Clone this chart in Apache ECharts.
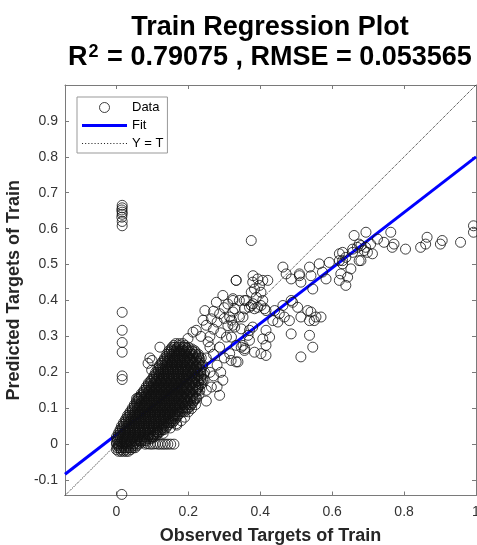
<!DOCTYPE html>
<html>
<head>
<meta charset="utf-8">
<script src="https://cdn.jsdelivr.net/npm/echarts@6/dist/echarts.min.js"></script>
<style>html,body{margin:0;padding:0;background:#fff}#chart{width:477px;height:545px}</style>
</head>
<body>
<div id="chart"></div>
<script>
// ---------- data ----------
const axisMin = -0.143;
const axisMax = 1.0;
const xTickValues = [0, 0.2, 0.4, 0.6, 0.8, 1];
const yTickValues = [-0.1, 0, 0.1, 0.2, 0.3, 0.4, 0.5, 0.6, 0.7, 0.8, 0.9];

// dense core of the cloud: one predicted level per row, observed values in that row
const coreRowY = [-0.02,-0.01,0,0.01,0.02,0.03,0.04,0.05,0.06,0.07,0.08,0.09,0.10,0.11,0.12,0.13,0.14,0.15,0.16,0.17,0.18,0.19,0.20,0.21,0.22,0.23,0.24,0.25,0.26,0.27,0.28];
const coreRowX = [
  [0.006,0.02,0.033],
  [0.002,0.014,0.027,0.04,0.052],
  [0.0,0.008,0.021,0.035,0.048,0.062],
  [0.003,0.015,0.03,0.044,0.058,0.071,0.083],
  [0.0,0.01,0.024,0.038,0.052,0.066,0.08,0.094,0.105],
  [0.005,0.018,0.032,0.046,0.06,0.074,0.088,0.102,0.116],
  [0.01,0.024,0.038,0.052,0.066,0.08,0.094,0.108,0.122,0.132],
  [0.014,0.028,0.042,0.056,0.07,0.084,0.098,0.112,0.126,0.14],
  [0.02,0.034,0.048,0.062,0.076,0.09,0.104,0.118,0.132,0.146,0.156],
  [0.026,0.04,0.054,0.068,0.082,0.096,0.11,0.124,0.138,0.152,0.164],
  [0.031,0.045,0.059,0.073,0.087,0.101,0.115,0.129,0.143,0.157,0.17],
  [0.038,0.052,0.066,0.08,0.094,0.108,0.122,0.136,0.15,0.164,0.178,0.19],
  [0.044,0.058,0.072,0.086,0.1,0.114,0.128,0.142,0.156,0.17,0.184,0.2],
  [0.05,0.064,0.078,0.092,0.106,0.12,0.134,0.148,0.162,0.176,0.192,0.208],
  [0.056,0.07,0.084,0.098,0.112,0.126,0.14,0.154,0.168,0.182,0.198,0.215],
  [0.063,0.077,0.091,0.105,0.119,0.133,0.147,0.161,0.175,0.19,0.205,0.222],
  [0.069,0.083,0.097,0.111,0.125,0.139,0.153,0.167,0.181,0.196,0.212],
  [0.077,0.091,0.105,0.119,0.133,0.147,0.161,0.175,0.189,0.204,0.22,0.232],
  [0.083,0.097,0.111,0.125,0.139,0.153,0.167,0.181,0.196,0.212,0.228],
  [0.089,0.103,0.117,0.131,0.145,0.159,0.173,0.187,0.202,0.218,0.238],
  [0.098,0.112,0.126,0.14,0.154,0.168,0.182,0.196,0.21,0.226,0.244],
  [0.104,0.118,0.132,0.146,0.16,0.174,0.188,0.202,0.218,0.236],
  [0.109,0.123,0.137,0.151,0.165,0.179,0.193,0.208,0.225,0.245],
  [0.115,0.129,0.143,0.157,0.171,0.185,0.2,0.215,0.232],
  [0.12,0.134,0.148,0.162,0.176,0.19,0.205,0.222,0.24],
  [0.128,0.142,0.156,0.17,0.184,0.198,0.213,0.23],
  [0.134,0.148,0.162,0.176,0.19,0.205,0.222,0.236],
  [0.14,0.154,0.168,0.182,0.196,0.212,0.228],
  [0.146,0.16,0.174,0.188,0.203,0.218],
  [0.155,0.17,0.185,0.2],
  [0.165,0.185]
];
// further points on the same rows (the core is overplotted)
const coreRowX3 = [
  [0.013,0.027],
  [0.008,0.021,0.034,0.046],
  [0.004,0.015,0.028,0.042,0.055],
  [0.009,0.022,0.037,0.051,0.065,0.077],
  [0.005,0.017,0.031,0.045,0.059,0.073,0.087,0.1],
  [0.011,0.025,0.039,0.053,0.067,0.081,0.095,0.109],
  [0.017,0.031,0.045,0.059,0.073,0.087,0.101,0.115,0.127],
  [0.021,0.035,0.049,0.063,0.077,0.091,0.105,0.119,0.133],
  [0.027,0.041,0.055,0.069,0.083,0.097,0.111,0.125,0.139,0.151],
  [0.033,0.047,0.061,0.075,0.089,0.103,0.117,0.131,0.145,0.158],
  [0.038,0.052,0.066,0.08,0.094,0.108,0.122,0.136,0.15,0.163],
  [0.045,0.059,0.073,0.087,0.101,0.115,0.129,0.143,0.157,0.171,0.184],
  [0.051,0.065,0.079,0.093,0.107,0.121,0.135,0.149,0.163,0.177,0.192],
  [0.057,0.071,0.085,0.099,0.113,0.127,0.141,0.155,0.169,0.184,0.2],
  [0.063,0.077,0.091,0.105,0.119,0.133,0.147,0.161,0.175,0.19,0.206],
  [0.07,0.084,0.098,0.112,0.126,0.14,0.154,0.168,0.182,0.197,0.213],
  [0.076,0.09,0.104,0.118,0.132,0.146,0.16,0.174,0.188,0.204],
  [0.084,0.098,0.112,0.126,0.14,0.154,0.168,0.182,0.196,0.212,0.226],
  [0.09,0.104,0.118,0.132,0.146,0.16,0.174,0.188,0.204,0.22],
  [0.096,0.11,0.124,0.138,0.152,0.166,0.18,0.194,0.21,0.228],
  [0.105,0.119,0.133,0.147,0.161,0.175,0.189,0.203,0.218,0.235],
  [0.111,0.125,0.139,0.153,0.167,0.181,0.195,0.21,0.227],
  [0.116,0.13,0.144,0.158,0.172,0.186,0.2,0.216,0.235],
  [0.122,0.136,0.15,0.164,0.178,0.192,0.207,0.223],
  [0.127,0.141,0.155,0.169,0.183,0.197,0.213,0.231],
  [0.135,0.149,0.163,0.177,0.191,0.205,0.221],
  [0.141,0.155,0.169,0.183,0.197,0.213,0.229],
  [0.147,0.161,0.175,0.189,0.204,0.22],
  [0.153,0.167,0.181,0.195,0.21],
  [0.162,0.177,0.192],
  [0.175]
];
// in-between rows of the same dense core
const coreRowY2 = [-0.015,-0.005,0.005,0.015,0.025,0.035,0.045,0.055,0.065,0.075,0.085,0.095,0.105,0.115,0.125,0.135,0.145,0.155,0.165,0.175,0.185,0.195,0.205,0.215,0.225,0.235,0.245,0.255,0.265,0.275];
const coreRowX2 = [
  [0.0,0.013,0.026,0.04],
  [0.005,0.018,0.031,0.045,0.056],
  [0.0,0.012,0.026,0.04,0.054,0.068,0.078],
  [0.002,0.016,0.03,0.044,0.058,0.072,0.086,0.096],
  [0.006,0.02,0.034,0.048,0.062,0.076,0.09,0.104,0.112],
  [0.01,0.024,0.038,0.052,0.066,0.08,0.094,0.108,0.122],
  [0.016,0.03,0.044,0.058,0.072,0.086,0.1,0.114,0.128,0.138],
  [0.02,0.034,0.048,0.062,0.076,0.09,0.104,0.118,0.132,0.146],
  [0.026,0.04,0.054,0.068,0.082,0.096,0.11,0.124,0.138,0.152,0.16],
  [0.032,0.046,0.06,0.074,0.088,0.102,0.116,0.13,0.144,0.158,0.168],
  [0.037,0.051,0.065,0.079,0.093,0.107,0.121,0.135,0.149,0.163,0.176],
  [0.044,0.058,0.072,0.086,0.1,0.114,0.128,0.142,0.156,0.17,0.184,0.194],
  [0.05,0.064,0.078,0.092,0.106,0.12,0.134,0.148,0.162,0.176,0.19,0.204],
  [0.056,0.07,0.084,0.098,0.112,0.126,0.14,0.154,0.168,0.183,0.198,0.212],
  [0.062,0.076,0.09,0.104,0.118,0.132,0.146,0.16,0.174,0.189,0.205,0.218],
  [0.069,0.083,0.097,0.111,0.125,0.139,0.153,0.167,0.181,0.197,0.212],
  [0.075,0.089,0.103,0.117,0.131,0.145,0.159,0.173,0.188,0.204,0.22],
  [0.083,0.097,0.111,0.125,0.139,0.153,0.167,0.181,0.196,0.212,0.226],
  [0.089,0.103,0.117,0.131,0.145,0.159,0.173,0.188,0.204,0.22,0.234],
  [0.095,0.109,0.123,0.137,0.151,0.165,0.179,0.194,0.21,0.228],
  [0.104,0.118,0.132,0.146,0.16,0.174,0.188,0.203,0.218,0.235],
  [0.11,0.124,0.138,0.152,0.166,0.18,0.195,0.21,0.228,0.242],
  [0.116,0.13,0.144,0.158,0.172,0.186,0.2,0.216,0.235],
  [0.12,0.136,0.15,0.164,0.178,0.192,0.207,0.223,0.238],
  [0.126,0.141,0.155,0.169,0.183,0.197,0.212,0.228],
  [0.134,0.148,0.162,0.176,0.19,0.205,0.22,0.232],
  [0.14,0.155,0.169,0.183,0.198,0.214,0.228],
  [0.147,0.161,0.175,0.19,0.205,0.22],
  [0.152,0.167,0.182,0.196,0.21],
  [0.16,0.175,0.19]
];

// column of points at low observed values
const leftColumn = [[0.016,0.665],[0.016,0.658],[0.015,0.652],[0.016,0.646],[0.016,0.64],[0.015,0.632],[0.016,0.62],[0.016,0.608],
  [0.016,0.367],[0.016,0.317],[0.016,0.283],[0.016,0.256],[0.016,0.19],[0.016,0.18],[0.015,-0.14]];

// row of points predicted at zero
const zeroRow = [[0.08,0.0],[0.087,0.001],[0.094,0.0],[0.101,0.0],[0.108,0.001],[0.115,0.0],[0.122,0.0],[0.129,0.0],[0.136,0.0],[0.143,0.0],[0.151,0.0],[0.16,0.0]];

// sparse points around the core
const haloPoints = [[0.06,0.128],[0.088,0.225],[0.099,0.233],[0.121,0.27],[0.093,0.24],[0.098,0.206],[0.056,0.127],[0.115,0.033],[0.168,0.053],
  [0.112,0.034],[0.167,0.057],[0.209,0.099],[0.222,0.127],[0.25,0.15],[0.264,0.159],[0.287,0.136],[0.296,0.178],[0.319,0.233],[0.338,0.229],
  [0.287,0.27],[0.347,0.27],[0.356,0.261],[0.306,0.298],[0.366,0.303],[0.347,0.321],[0.379,0.326],[0.324,0.331],[0.25,0.331],[0.199,0.294],
  [0.213,0.312],[0.222,0.317],[0.241,0.345],[0.264,0.349],[0.342,0.354],[0.324,0.368],[0.287,0.363],[0.246,0.372],[0.278,0.395],[0.375,0.386],
  [0.356,0.4],[0.324,0.4],[0.296,0.414],[0.333,0.456],[0.379,0.451],
  [0.26,0.3],[0.27,0.32],[0.28,0.34],[0.3,0.35],[0.31,0.33],[0.29,0.31],[0.255,0.285],[0.235,0.3],[0.3,0.38],[0.31,0.39],[0.27,0.37],[0.32,0.345],
  [0.3,0.24],[0.28,0.22],[0.27,0.25],[0.26,0.27],[0.25,0.24],[0.29,0.2],[0.27,0.19],[0.26,0.2],[0.24,0.18],[0.28,0.16],[0.23,0.14],[0.25,0.12],
  [0.2,0.09],[0.22,0.11],[0.19,0.075],[0.18,0.065],[0.15,0.045],[0.13,0.03],[0.1,0.02]];

// middle branch (0.3 - 0.6 observed)
const midPoints = [[0.375,0.567],
  [0.333,0.456],[0.38,0.469],[0.393,0.46],[0.398,0.442],[0.384,0.432],[0.407,0.456],[0.421,0.456],[0.375,0.423],[0.389,0.409],[0.402,0.423],
  [0.407,0.4],[0.324,0.405],[0.342,0.4],[0.361,0.4],[0.357,0.377],[0.37,0.381],[0.38,0.391],[0.384,0.377],[0.393,0.381],[0.402,0.386],
  [0.412,0.377],[0.329,0.377],[0.315,0.354],[0.352,0.354],[0.416,0.372],
  [0.486,0.4],[0.49,0.395],[0.463,0.386],[0.453,0.363],[0.467,0.354],[0.44,0.372],[0.435,0.344],[0.449,0.34],[0.504,0.381],[0.513,0.354],
  [0.532,0.372],[0.541,0.368],[0.537,0.344],[0.555,0.354],[0.569,0.354],[0.55,0.344],[0.481,0.344],[0.486,0.307],[0.537,0.303],[0.546,0.27],[0.513,0.243],
  [0.329,0.326],[0.32,0.298],[0.37,0.317],[0.416,0.317],[0.407,0.293],[0.426,0.298],[0.333,0.275],[0.352,0.275],[0.37,0.289],[0.357,0.266],
  [0.384,0.256],[0.416,0.275],[0.402,0.252],[0.416,0.247],[0.333,0.229],[0.315,0.252],
  [0.463,0.493],[0.472,0.474],[0.486,0.46],[0.509,0.474],[0.513,0.451],[0.541,0.469],[0.573,0.479],[0.583,0.46],[0.546,0.432]];

// upper branch (0.5 - 1.0 observed)
const highPoints = [[0.661,0.581],[0.694,0.59],[0.763,0.59],[0.675,0.557],[0.707,0.557],[0.726,0.571],[0.744,0.562],[0.772,0.557],[0.804,0.543],
  [0.846,0.548],[0.86,0.557],[0.864,0.576],[0.901,0.557],[0.906,0.567],[0.957,0.562],[0.993,0.608],[0.993,0.59],[0.629,0.534],[0.657,0.543],
  [0.67,0.548],[0.689,0.539],[0.698,0.534],[0.712,0.53],[0.537,0.493],[0.564,0.502],[0.592,0.506],[0.62,0.511],[0.629,0.502],[0.638,0.52],
  [0.652,0.488],[0.675,0.511],[0.509,0.469],[0.624,0.474],[0.68,0.511],[0.693,0.548],[0.767,0.548],[0.68,0.553],[0.657,0.534],
  [0.62,0.53],[0.629,0.511],[0.62,0.456],[0.638,0.442],[0.643,0.465]];

// fitted line and identity line end points
const fitX = [-0.143, 1.0];
const fitY = [-0.084, 0.8];
const identX = [-0.143, 1.0];
const identY = [-0.143, 1.0];

// ---------- build ----------
const corePoints = [];
coreRowY.forEach((y, i) => coreRowX[i].forEach(x => corePoints.push([x, y])));
coreRowY.forEach((y, i) => coreRowX3[i].forEach(x => corePoints.push([x, y])));
coreRowY2.forEach((y, i) => coreRowX2[i].forEach(x => corePoints.push([x, y])));
const scatterData = corePoints.concat(leftColumn, zeroRow, haloPoints, midPoints, highPoints);
const fitData = fitX.map((x, i) => [x, fitY[i]]);
const identData = identX.map((x, i) => [x, identY[i]]);

const FONT = '"Liberation Sans", Arial, sans-serif';
const AX = '#7a7a7a';
const LBL = '#333333';

// legend icons (style only)
let dotted = 'path://';
for (let k = 0; k < 15; k++) dotted += 'M' + (k * 3) + ',0h1v1h-1z';
const solidIcon = 'path://M0,0H45V3H0Z';

function axisBase(ticks) {
  return {
    type: 'value', min: axisMin, max: axisMax,
    axisLine: { show: true, onZero: false, lineStyle: { color: AX, width: 1 } },
    axisTick: { show: true, inside: true, length: 4, customValues: ticks, lineStyle: { color: AX, width: 1 } },
    splitLine: { show: false },
    axisPointer: { show: false }
  };
}

const chart = echarts.init(document.getElementById('chart'), null, { renderer: 'canvas' });
chart.setOption({
  animation: false,
  backgroundColor: '#fff',
  title: [
    {
      text: 'Train Regression Plot',
      left: 270, top: 13, textAlign: 'center', padding: 0,
      textStyle: { fontFamily: FONT, fontSize: 27, fontWeight: 'bold', color: '#000', lineHeight: 30 }
    },
    {
      text: '{t|R}{s|2}{t| = 0.79075 , RMSE = 0.053565}',
      left: 270, top: 43, textAlign: 'center', padding: 0,
      textStyle: {
        fontFamily: FONT, fontSize: 27, fontWeight: 'bold', color: '#000', lineHeight: 30,
        rich: {
          t: { fontFamily: FONT, fontSize: 27, fontWeight: 'bold', color: '#000', lineHeight: 30 },
          s: { fontFamily: FONT, fontSize: 18, fontWeight: 'bold', color: '#000', lineHeight: 30, verticalAlign: 'top', padding: [0, 1, 0, 1] }
        }
      }
    }
  ],
  legend: {
    orient: 'vertical', left: 77, top: 97,
    itemWidth: 45, itemHeight: 10, itemGap: 5,
    padding: [4, 4, 3, 5],
    borderColor: '#999', borderWidth: 1, backgroundColor: '#fff',
    textStyle: { fontFamily: FONT, fontSize: 13, color: '#000' },
    data: [
      { name: 'Data', icon: 'circle', itemStyle: { color: 'rgba(0,0,0,0)', borderColor: '#111', borderWidth: 1 } },
      { name: 'Fit', icon: solidIcon, itemStyle: { color: '#0000ff', borderWidth: 0 } },
      { name: 'Y = T', icon: dotted, itemStyle: { color: '#222', borderWidth: 0 } }
    ]
  },
  grid: { left: 65, right: 1, top: 85, bottom: 49.5, containLabel: false, outerBoundsMode: 'none' },
  xAxis: [
    Object.assign(axisBase(xTickValues), {
      position: 'bottom',
      axisLabel: { customValues: xTickValues, fontFamily: FONT, fontSize: 14, color: LBL, margin: 10 },
      name: 'Observed Targets of Train', nameLocation: 'middle', nameGap: 32,
      nameTextStyle: { fontFamily: FONT, fontSize: 18, fontWeight: 'bold', color: '#262626' }
    }),
    Object.assign(axisBase(xTickValues), { position: 'top', axisLabel: { show: false } })
  ],
  yAxis: [
    Object.assign(axisBase(yTickValues), {
      position: 'left',
      axisLabel: { customValues: yTickValues, fontFamily: FONT, fontSize: 14, color: LBL, margin: 7 },
      name: 'Predicted Targets of Train', nameLocation: 'middle', nameGap: 34,
      nameTextStyle: { fontFamily: FONT, fontSize: 18, fontWeight: 'bold', color: '#262626' }
    }),
    Object.assign(axisBase(yTickValues), { position: 'right', axisLabel: { show: false } })
  ],
  series: [
    {
      name: 'Data', type: 'scatter', xAxisIndex: 0, yAxisIndex: 0,
      data: scatterData, symbol: 'circle', symbolSize: 10, z: 5,
      itemStyle: { color: 'rgba(0,0,0,0)', borderColor: '#111', borderWidth: 1 },
      emphasis: { disabled: true }, silent: true
    },
    {
      name: 'Fit', type: 'line', xAxisIndex: 0, yAxisIndex: 0,
      data: fitData, symbol: 'none', z: 3,
      lineStyle: { color: '#0000ff', width: 3 }, itemStyle: { color: '#0000ff' },
      emphasis: { disabled: true }, silent: true
    },
    {
      name: 'Y = T', type: 'line', xAxisIndex: 0, yAxisIndex: 0,
      data: identData, symbol: 'none', z: 3,
      lineStyle: { color: '#222', width: 1, type: 'dotted' }, itemStyle: { color: '#222' },
      emphasis: { disabled: true }, silent: true
    }
  ]
});
</script>
</body>
</html>
